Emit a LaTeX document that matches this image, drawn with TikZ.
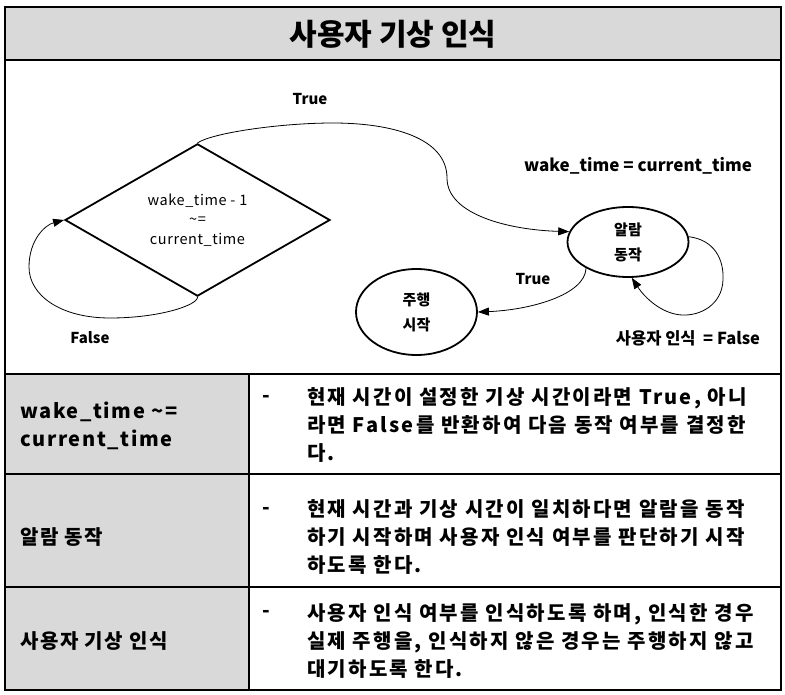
\documentclass[tikz,border=0pt]{standalone}
\usepackage{fontspec}
\setmainfont{Noto Sans CJK KR}
\newfontfamily\tblfont{Noto Sans CJK KR}[LetterSpace=11]
\newfontfamily\tblmed{Noto Sans CJK KR}[LetterSpace=8]
\newfontfamily\diafont{Noto Sans CJK KR}[LetterSpace=4]
\usetikzlibrary{arrows.meta,shapes.geometric}
\definecolor{cellgray}{RGB}{217,217,217}
\begin{document}
\begin{tikzpicture}[x=1pt,y=-1pt,
  frame/.style={line width=2.4pt},
  divider/.style={line width=1.8pt},
  conn/.style={line width=0.8pt,-{Triangle[length=11pt,width=8pt]}},
  statebox/.style={draw,line width=1.8pt,ellipse,inner sep=0pt,align=center,
    font=\bfseries\fontsize{15}{25}\selectfont},
  lbl/.style={font=\bfseries\fontsize{15}{18}\selectfont,inner sep=0pt},
  lefttxt/.style={anchor=west,align=left,inner sep=0pt,
    font=\tblmed\bfseries\fontsize{20}{28}\selectfont},
  righttxt/.style={anchor=west,align=left,inner sep=0pt,
    font=\tblfont\bfseries\fontsize{20}{28}\selectfont},
  dashtxt/.style={inner sep=0pt,font=\bfseries\fontsize{20}{28}\selectfont}
]
\useasboundingbox (0,0) rectangle (785,695);
% backgrounds
\fill[cellgray] (5,7) rectangle (781,60);
\fill[cellgray] (5,374) rectangle (249,690);
% grid lines
\draw[divider] (5,60) -- (781,60);
\draw[divider] (5,374) -- (781,374);
\draw[divider] (5,474) -- (781,474);
\draw[divider] (5,587) -- (781,587);
\draw[divider] (249,374) -- (249,690);
\draw[frame] (5,7) rectangle (781,690);
% title
\node[inner sep=0pt,font=\bfseries\fontsize{30}{34}\selectfont] (title) at (393,34) {사용자 기상 인식};
% diagram nodes
\node[draw,diamond,line width=1.8pt,inner sep=0pt,minimum width=265pt,minimum height=122pt,
  align=center,font=\diafont\fontsize{14.5}{19.5}\selectfont] (d) at (197.5,220)
  {wake\_time - 1\\\textasciitilde=\\current\_time};
\node[statebox,minimum width=121pt,minimum height=70pt] (a) at (628,242) {알람\\동작};
\node[statebox,minimum width=121pt,minimum height=86pt] (dr) at (416.5,312) {주행\\시작};
% connectors
\draw[conn] (d.north) .. controls (212,133) and (280,123) .. (333,123)
  .. controls (392,123) and (447,138) .. (447,178)
  .. controls (447,215) and (510,230) .. (a.170);
\draw[conn] (d.south) .. controls (198,305) and (160,318) .. (110,318)
  .. controls (60,318) and (29,295) .. (29,267)
  .. controls (29,240) and (45,225) .. (d.west);
\draw[conn] (a.212) .. controls (585,295) and (530,310) .. (dr.east);
\draw[conn] (a.5) .. controls (715,240) and (724,260) .. (723,280)
  .. controls (722,305) and (700,316) .. (682,315)
  .. controls (662,314) and (645,298) .. (a.-84);
% labels
\node[lbl] (ltrue1) at (310,99) {True};
\node[lbl] (lfalse1) at (90,338) {False};
\node[lbl,font=\bfseries\fontsize{17}{18}\selectfont] (lcond) at (638,166) {wake\_time = current\_time};
\node[lbl] (ltrue2) at (533,279) {True};
\node[lbl,font=\bfseries\fontsize{16.5}{18}\selectfont] (lfalse2) at (688,338) {사용자 인식\ \ = False};
% table row 1
\node[lefttxt] (r1l) at (20,426) {wake\_time \textasciitilde=\\current\_time};
\node[dashtxt] (r1d) at (266,399) {-};
\node[righttxt] (r1r) at (307,425) {현재 시간이 설정한 기상 시간이라면 True, 아니\\라면 False를 반환하여 다음 동작 여부를 결정한\\다.};
% table row 2
\node[lefttxt] (r2l) at (20,537) {알람 동작};
\node[dashtxt] (r2d) at (266,511) {-};
\node[righttxt] (r2r) at (307,537) {현재 시간과 기상 시간이 일치하다면 알람을 동작\\하기 시작하며 사용자 인식 여부를 판단하기 시작\\하도록 한다.};
% table row 3
\node[lefttxt] (r3l) at (20,641) {사용자 기상 인식};
\node[dashtxt] (r3d) at (266,614) {-};
\node[righttxt] (r3r) at (307,641) {사용자 인식 여부를 인식하도록 하며, 인식한 경우\\실제 주행을, 인식하지 않은 경우는 주행하지 않고\\대기하도록 한다.};
\end{tikzpicture}
\end{document}
